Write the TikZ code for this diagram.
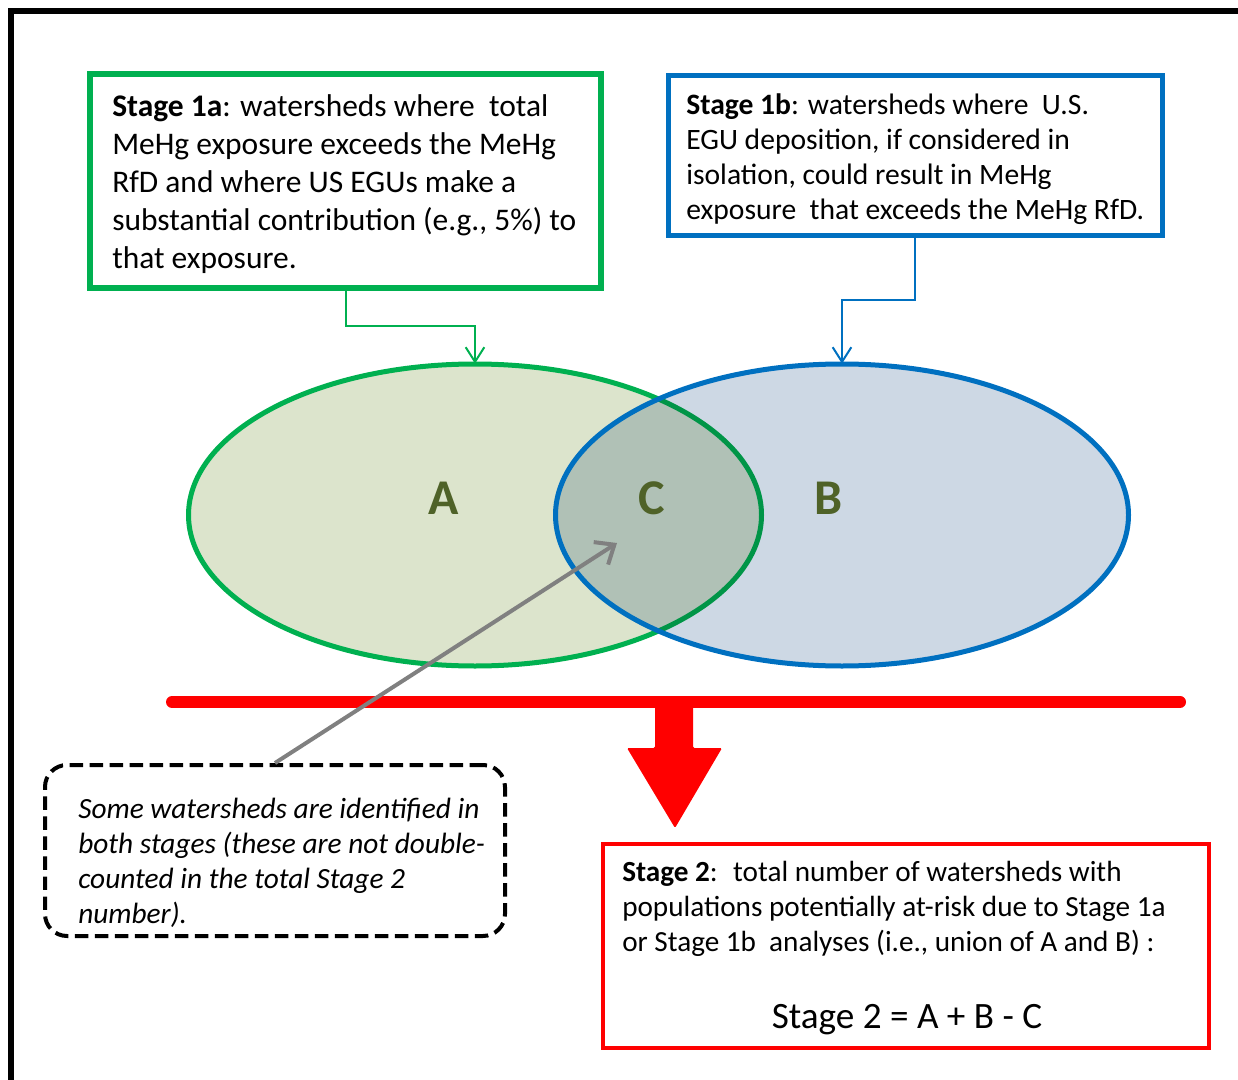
\documentclass[tikz,border=0pt]{standalone}
\usepackage{fontspec}
\setmainfont{Carlito}
\usetikzlibrary{shapes.geometric,arrows.meta}
\definecolor{stagegreen}{RGB}{0,176,80}
\definecolor{stageblue}{RGB}{0,112,192}
\definecolor{fillgreen}{RGB}{220,228,204}
\definecolor{fillblue}{RGB}{205,216,228}
\definecolor{labelgreen}{RGB}{79,98,40}
\definecolor{pointergray}{RGB}{128,128,128}
\tikzset{
  stagebox/.style={draw, rectangle, align=left, inner sep=0pt},
  stagetext/.style={align=left, anchor=west, inner sep=0pt},
  setfill/.style={ellipse, inner sep=0pt, minimum width=429.75pt, minimum height=226.5pt},
  setlabel/.style={text=labelgreen, font=\fontsize{37.5}{44}\selectfont\bfseries},
  elbow/.style={line width=1.5pt, -{Straight Barb[length=11pt,width=14pt]}},
  pointer/.style={draw=pointergray, line width=3pt, -{Straight Barb[length=12pt,width=20pt]}},
}
\begin{document}
\begin{tikzpicture}[x=0.75pt,y=-0.75pt]
  \useasboundingbox (0,0) rectangle (1238,1080);
  \clip (0,0) rectangle (1238,1080);
  \draw[line width=4.5pt] (11,11) rectangle (1300,1120);
  \node[stagebox, draw=stagegreen, line width=4.5pt, minimum width=383.25pt, minimum height=160.5pt] (s1a) at (345.5,181) {};
  \node[stagetext, font=\fontsize{23.6}{28.5}\selectfont] (s1atext) at (112,184)
    {\textbf{Stage 1a}: watersheds where ~total\\MeHg exposure exceeds the MeHg\\RfD and where US EGUs make a\\substantial contribution (e.g., 5\%) to\\that exposure.};
  \node[stagebox, draw=stageblue, line width=3.75pt, minimum width=370.5pt, minimum height=120pt] (s1b) at (915,156) {};
  \node[stagetext, font=\fontsize{22.2}{26.25}\selectfont] (s1btext) at (686,159)
    {\textbf{Stage 1b}: watersheds where ~U.S.\\EGU deposition, if considered in\\isolation, could result in MeHg\\exposure ~that exceeds the MeHg RfD.};
  \node[setfill, fill=fillgreen] (ea) at (475,515) {};
  \draw[stagegreen, line width=3.75pt] (ea.center) ellipse [x radius=286.5, y radius=151];
  \begin{scope}[blend mode=multiply]
    \node[setfill, fill=fillblue] (eb) at (842,515) {};
  \end{scope}
  \draw[stageblue, line width=3.75pt] (eb.center) ellipse [x radius=286.5, y radius=151];
  \draw[elbow, stagegreen] (s1a.south) |- (475,326) -- (ea.north);
  \draw[elbow, stageblue] (s1b.south) |- (842,300) -- (eb.north);
  \node[setlabel] (la) at (444,498) {A};
  \node[setlabel] (lc) at (652,498) {C};
  \node[setlabel] (lb) at (829,498) {B};
  \draw[red, line width=9pt, line cap=round] (172,702) -- (1180,702);
  \fill[red, rounded corners=1pt] (655,700) -- (693,700) -- (693,748) -- (722,748) -- (675,828) -- (627,748) -- (655,748) -- cycle;
  \node[stagebox, dashed, dash pattern=on 10pt off 5pt, line width=3pt, rounded corners=16.5pt,
    minimum width=345pt, minimum height=128.25pt] (note) at (275,850.5) {};
  \node[stagetext, font=\fontsize{22}{26.25}\selectfont\itshape] (notetext) at (78,863)
    {Some watersheds are identified in\\both stages (these are not double-\\counted in the total Stage 2\\number).};
  \coordinate (ctip) at (617,543);
  \draw[pointer] (note.north) -- (ctip);
  \node[stagebox, draw=red, line width=3pt, minimum width=454.5pt, minimum height=153pt] (s2) at (906,946) {};
  \node[stagetext, font=\fontsize{21.9}{26}\selectfont] (s2text) at (622,909)
    {\textbf{Stage 2}: ~total number of watersheds with\\populations potentially at-risk due to Stage 1a\\or Stage 1b ~analyses (i.e., union of A and B) :};
  \node[font=\fontsize{27.9}{32}\selectfont] (s2sum) at (907,1020) {Stage 2 = A + B - C};
\end{tikzpicture}
\end{document}
